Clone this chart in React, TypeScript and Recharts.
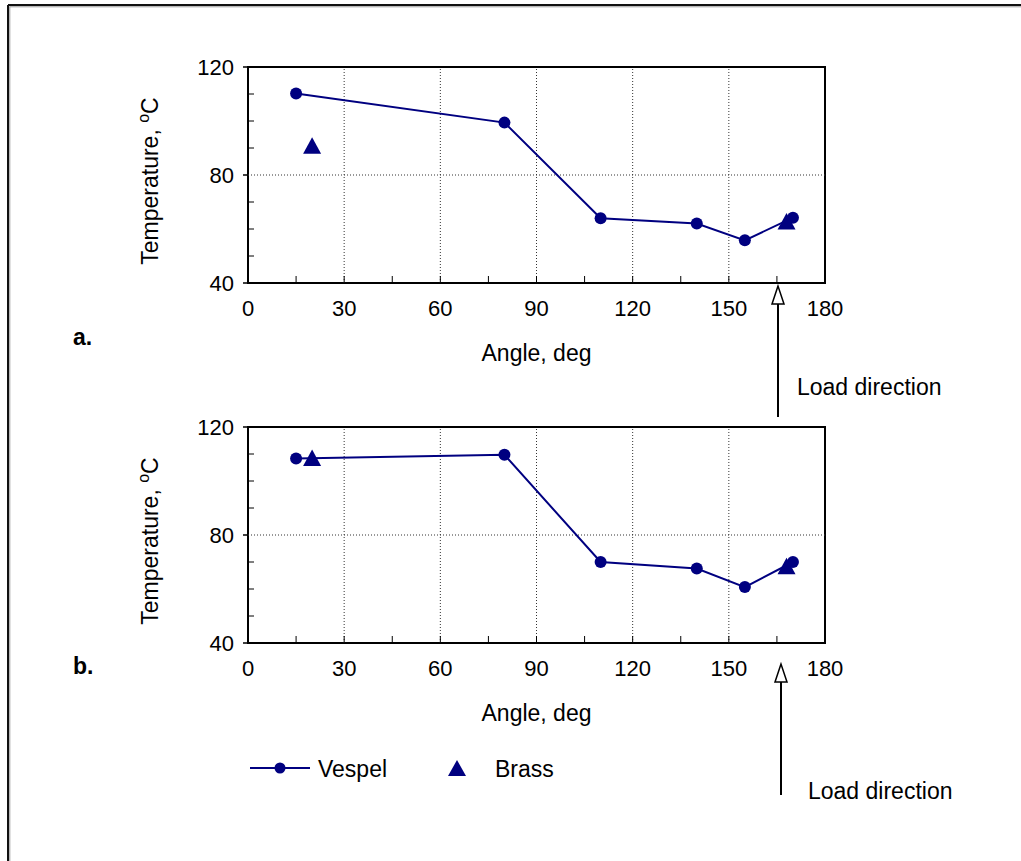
import React from 'react';
import { ScatterChart, Scatter, XAxis, YAxis, ReferenceLine, ReferenceArea } from 'recharts';

const NAVY = '#000080';
const FONT = '"Liberation Sans", Arial, Helvetica, sans-serif';

// Measured temperatures around the bearing, angle in degrees
const vespelAngles = [15, 80, 110, 140, 155, 170];
const vespelTempA = [110.2, 99.4, 64, 62, 55.8, 64.2];
const vespelTempB = [108.3, 109.7, 70, 67.6, 60.7, 70];

const brassAngles = [20, 168];
const brassTempA = [90.8, 62.8];
const brassTempB = [108.5, 68.4];

const angleTicks = [0, 15, 30, 45, 60, 75, 90, 105, 120, 135, 150, 165, 180];
const tempTicks = [40, 50, 60, 70, 80, 90, 100, 110, 120];
const angleGrid = [30, 60, 90, 120, 150];
const tempGrid = [80];

const toPoints = (angles: number[], temps: number[]) =>
  angles.map((angle, i) => ({ angle, temp: temps[i] }));

const CHART_W = 1021;
const CHART_H = 380;
const Y_TICK_SIZE = 5;
const Y_TICK_MARGIN = 9;
const X_TICK_SIZE = 0;
const X_TICK_MARGIN = 17;
const TICK_FONT = 22;
const LABEL_FONT = 23;

function TempTick(props: any) {
  const { x, y, payload } = props;
  const left = x + Y_TICK_SIZE + Y_TICK_MARGIN;
  const major = payload.value % 40 === 0;
  return (
    <g>
      {!major && <line x1={left} x2={left + 6} y1={y} y2={y} stroke="#000" strokeWidth={1} />}
      {major && <line x1={left - Y_TICK_SIZE} x2={left} y1={y} y2={y} stroke="#000" strokeWidth={1.5} />}
      {major && (
        <text x={x} y={y} textAnchor="end" dominantBaseline="central" fontSize={TICK_FONT} fontFamily={FONT} fill="#000">
          {payload.value}
        </text>
      )}
    </g>
  );
}

function AngleTick(props: any) {
  const { x, y, payload } = props;
  const bottom = y - X_TICK_SIZE - X_TICK_MARGIN;
  const edge = payload.value === 0 || payload.value === 180;
  const major = payload.value % 30 === 0;
  return (
    <g>
      {!edge && <line x1={x} x2={x} y1={bottom} y2={bottom - 7} stroke="#000" strokeWidth={1} />}
      {major && (
        <text x={x} y={y} dy="0.71em" textAnchor="middle" fontSize={TICK_FONT} fontFamily={FONT} fill="#000">
          {payload.value}
        </text>
      )}
    </g>
  );
}

function TempLabel(props: any) {
  const { x, y, height } = props.viewBox;
  const cx = x + 22;
  const cy = y + height / 2 + 6;
  return (
    <text
      x={cx}
      y={cy}
      transform={`rotate(-90 ${cx} ${cy})`}
      textAnchor="middle"
      dominantBaseline="central"
      fontSize={LABEL_FONT}
      fontFamily={FONT}
      fill="#000"
    >
      Temperature, <tspan dy={-7} fontSize={16}>o</tspan>
      <tspan dy={7}>C</tspan>
    </text>
  );
}

const Dot = (props: any) => <circle cx={props.cx} cy={props.cy} r={6} fill={NAVY} />;

const Triangle = (props: any) => {
  const { cx, cy } = props;
  return <polygon points={`${cx},${cy - 8.5} ${cx - 9},${cy + 8} ${cx + 9},${cy + 8}`} fill={NAVY} />;
};

function TempPanel({ vespel, brass }: { vespel: number[]; brass: number[] }) {
  return (
    <ScatterChart width={CHART_W} height={CHART_H} margin={{ top: 67, right: 196, bottom: 40, left: 128 }}>
      <XAxis
        type="number"
        dataKey="angle"
        domain={[0, 180]}
        ticks={angleTicks}
        interval={0}
        axisLine={false}
        tickLine={false}
        tickSize={X_TICK_SIZE}
        tickMargin={X_TICK_MARGIN}
        tick={<AngleTick />}
        height={57}
        label={{ value: 'Angle, deg', position: 'bottom', offset: 5, fontSize: LABEL_FONT, fontFamily: FONT, fill: '#000' }}
      />
      <YAxis
        type="number"
        dataKey="temp"
        domain={[40, 120]}
        ticks={tempTicks}
        interval={0}
        axisLine={false}
        tickLine={false}
        tickSize={Y_TICK_SIZE}
        tickMargin={Y_TICK_MARGIN}
        tick={<TempTick />}
        width={120}
        label={{ content: <TempLabel /> }}
      />
      {angleGrid.map((a) => (
        <ReferenceLine key={`gx${a}`} x={a} stroke="#333" strokeDasharray="1 2" strokeWidth={1} />
      ))}
      {tempGrid.map((t) => (
        <ReferenceLine key={`gy${t}`} y={t} stroke="#333" strokeDasharray="1 2" strokeWidth={1} />
      ))}
      <ReferenceArea x1={0} x2={180} y1={40} y2={120} fill="none" fillOpacity={0} stroke="#000" strokeWidth={2} ifOverflow="visible" />
      <Scatter
        name="Vespel"
        data={toPoints(vespelAngles, vespel)}
        fill={NAVY}
        line={{ stroke: NAVY, strokeWidth: 2 }}
        shape={Dot}
        isAnimationActive={false}
      />
      <Scatter name="Brass" data={toPoints(brassAngles, brass)} fill={NAVY} shape={Triangle} isAnimationActive={false} />
    </ScatterChart>
  );
}

function UpArrow({ x, tip, tail }: { x: number; tip: number; tail: number }) {
  return (
    <g>
      <line x1={x} x2={x} y1={tip + 18} y2={tail} stroke="#000" strokeWidth={2} />
      <polygon points={`${x},${tip} ${x - 6},${tip + 18} ${x + 6},${tip + 18}`} fill="#fff" stroke="#000" strokeWidth={1.5} />
    </g>
  );
}

export default function App() {
  return (
    <div style={{ position: 'absolute', left: 0, top: 0, width: 1021, height: 861, background: '#fff', overflow: 'hidden', fontFamily: FONT }}>
      <div style={{ position: 'absolute', left: 0, top: 0 }}>
        <TempPanel vespel={vespelTempA} brass={brassTempA} />
      </div>
      <div style={{ position: 'absolute', left: 0, top: 360 }}>
        <TempPanel vespel={vespelTempB} brass={brassTempB} />
      </div>
      <svg width={1021} height={861} style={{ position: 'absolute', left: 0, top: 0, pointerEvents: 'none' }}>
        {/* page frame */}
        <line x1={8} x2={1030} y1={5} y2={5} stroke="#111" strokeWidth={2} />
        <line x1={8} x2={8} y1={5} y2={870} stroke="#111" strokeWidth={2} />
        <line x1={9.5} x2={1030} y1={6.8} y2={6.8} stroke="#999" strokeWidth={1} />
        <line x1={9.8} x2={9.8} y1={6.5} y2={870} stroke="#999" strokeWidth={1} />

        <text x={73} y={345} fontSize={23} fontWeight="bold" fontFamily={FONT}>a.</text>
        <text x={73} y={674} fontSize={23} fontWeight="bold" fontFamily={FONT}>b.</text>

        <UpArrow x={778} tip={286} tail={417} />
        <text x={797} y={395} fontSize={LABEL_FONT} fontFamily={FONT}>Load direction</text>
        <UpArrow x={781} tip={664} tail={795} />
        <text x={808} y={799} fontSize={LABEL_FONT} fontFamily={FONT}>Load direction</text>

        {/* legend */}
        <line x1={250} x2={310} y1={768} y2={768} stroke={NAVY} strokeWidth={2} />
        <circle cx={280} cy={768} r={5.5} fill={NAVY} />
        <text x={318} y={777} fontSize={LABEL_FONT} fontFamily={FONT}>Vespel</text>
        <polygon points="457,760 448,776 466,776" fill={NAVY} />
        <text x={495} y={777} fontSize={LABEL_FONT} fontFamily={FONT}>Brass</text>
      </svg>
    </div>
  );
}
